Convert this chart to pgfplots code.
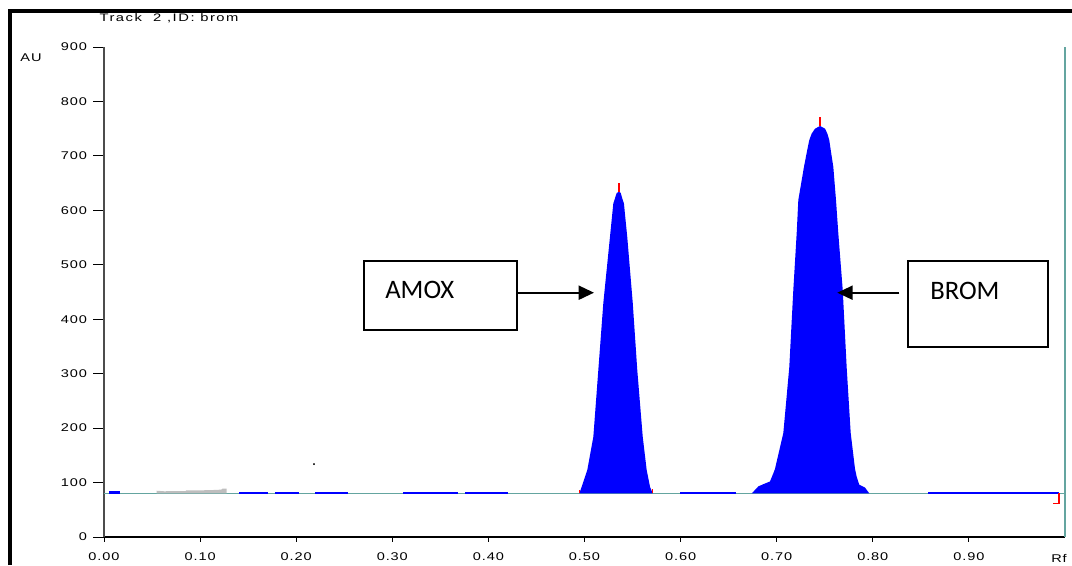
\documentclass[border=0pt]{standalone}
\usepackage{pgfplots}
\pgfplotsset{compat=1.18}
\usepackage{fontspec}
\setmainfont{Liberation Sans}
\newfontfamily\tickfont[FakeStretch=1.3,LetterSpace=8]{Liberation Sans}
\newfontfamily\titlefont[FakeStretch=1.35,LetterSpace=14]{Liberation Sans}
\newfontfamily\boxfont{Carlito}
\usetikzlibrary{arrows.meta}
\definecolor{tealline}{RGB}{100,165,160}
\definecolor{peakblue}{RGB}{0,0,255}
\definecolor{graypk}{RGB}{190,190,190}
\begin{document}
\begin{tikzpicture}[x=0.75pt,y=-0.75pt]
\useasboundingbox (0,0) rectangle (1072,565);
\begin{axis}[
  at={(78pt,-402.75pt)}, anchor=south west, scale only axis,
  width=720.75pt, height=367.5pt,
  xmin=0, xmax=1, ymin=0, ymax=900,
  axis x line=bottom, axis y line=left,
  x axis line style={-, black, line width=0.9pt},
  y axis line style={-, black!70, line width=0.9pt},
  xtick={0,0.1,0.2,0.3,0.4,0.5,0.6,0.7,0.8,0.9},
  xticklabels={0.00,0.10,0.20,0.30,0.40,0.50,0.60,0.70,0.80,0.90},
  ytick={0,100,200,300,400,500,600,700,800,900},
  tick align=outside,
  major tick length=8.25pt,
  xtick style={black, line width=0.7pt, /pgfplots/major tick length=3.5pt},
  ytick style={black, line width=0.7pt},
  ticklabel style={font=\tickfont\fontsize{8.4pt}{10pt}\selectfont},
  yticklabel style={xshift=-1pt},
  /pgf/number format/assume math mode=true,
  clip=false,
]
% baseline
\addplot[tealline, line width=1pt] coordinates {(0,80) (1,80)};
% blue baseline segments
\addplot[peakblue, line width=1.8pt] coordinates {(0.0055,81.5) (0.0166,81.5)};
\addplot[peakblue, line width=1.4pt] coordinates {(0.1408,80.3) (0.1710,80.3)};
\addplot[peakblue, line width=1.4pt] coordinates {(0.1779,80.3) (0.2032,80.3)};
\addplot[peakblue, line width=1.4pt] coordinates {(0.2196,80.3) (0.2542,80.3)};
\addplot[peakblue, line width=1.4pt] coordinates {(0.3114,80.3) (0.3687,80.3)};
\addplot[peakblue, line width=1.4pt] coordinates {(0.3757,80.3) (0.4201,80.3)};
\addplot[peakblue, line width=1.4pt] coordinates {(0.5994,80.3) (0.6576,80.3)};
\addplot[peakblue, line width=1.4pt] coordinates {(0.8577,80.3) (0.9941,80.3)};
% small gray bump
\addplot[draw=none, fill=graypk] coordinates {(0.0548,80) (0.0548,85) (0.0625,84) (0.0850,84.5) (0.0855,85.5) (0.1100,86) (0.1220,87) (0.1235,89) (0.1277,89) (0.1277,80)};
% AMOX peak
\addplot[draw=none, fill=peakblue] coordinates {(0.4946,80) (0.4970,92) (0.5029,123) (0.5092,184) (0.5144,307) (0.5196,430) (0.5265,551) (0.5300,613) (0.5317,622) (0.5335,632) (0.5359,634) (0.5377,632) (0.5393,622) (0.5410,613) (0.5445,551) (0.5502,430) (0.5549,307) (0.5606,184) (0.5647,123) (0.5682,92) (0.5710,80)};
% BROM peak
\addplot[draw=none, fill=peakblue] coordinates {(0.6740,80) (0.6809,93) (0.6861,97) (0.6930,102) (0.6965,117) (0.6982,125) (0.7069,191) (0.7131,312) (0.7173,454) (0.7208,558) (0.7225,619) (0.7284,680) (0.7318,711) (0.7339,729) (0.7364,741) (0.7399,750) (0.7451,755) (0.7503,750) (0.7527,741) (0.7547,729) (0.7562,711) (0.7589,680) (0.7617,619) (0.7641,558) (0.7687,454) (0.7728,312) (0.7770,191) (0.7815,125) (0.7832,111) (0.7859,96) (0.7918,91) (0.7964,80)};
% red markers
\addplot[red, line width=0.9pt] coordinates {(0.5359,634) (0.5359,650)};
\addplot[red, line width=0.9pt] coordinates {(0.7451,755) (0.7451,772)};
\addplot[red, line width=0.9pt] coordinates {(0.4950,80) (0.4950,86)};
\addplot[red, line width=0.9pt] coordinates {(0.5706,80) (0.5706,88)};
\addplot[red, line width=0.9pt] coordinates {(0.9938,80) (0.9938,62) (0.9872,62)};
% right vertical line
\addplot[tealline, line width=1.6pt] coordinates {(1,0) (1,900)};
% stray dot
\addplot[only marks, mark=*, mark size=0.45pt, black] coordinates {(0.2185,134)};
\end{axis}
% frame
\draw[line width=2.4pt] (10,565) -- (10,11) -- (1072,11);
\node[font=\titlefont\fontsize{8.2pt}{10pt}\selectfont] at (169,18) {Track\ \ 2 ,ID: brom};
\node[font=\tickfont\fontsize{8.4pt}{10pt}\selectfont] at (31,58) {AU};
\node[font=\tickfont\fontsize{8.4pt}{10pt}\selectfont] at (1059,558) {Rf};
% annotations
\draw[line width=1.5pt] (364,261) rectangle (517,330);
\node[font=\boxfont\fontsize{20pt}{24pt}\selectfont, anchor=base west, inner sep=0pt] at (385,298.3) {AMOX};
\draw[line width=1.5pt, -{Triangle[length=11.5pt,width=10.5pt]}] (517,292.7) -- (594,292.7);
\draw[line width=1.5pt] (908.3,261) rectangle (1047.7,346.7);
\node[font=\boxfont\fontsize{20pt}{24pt}\selectfont, anchor=base west, inner sep=0pt] at (930,299.3) {BROM};
\draw[line width=1.5pt, -{Triangle[length=11.5pt,width=10.5pt]}] (899.3,292.7) -- (837.3,292.7);
\end{tikzpicture}
\end{document}
